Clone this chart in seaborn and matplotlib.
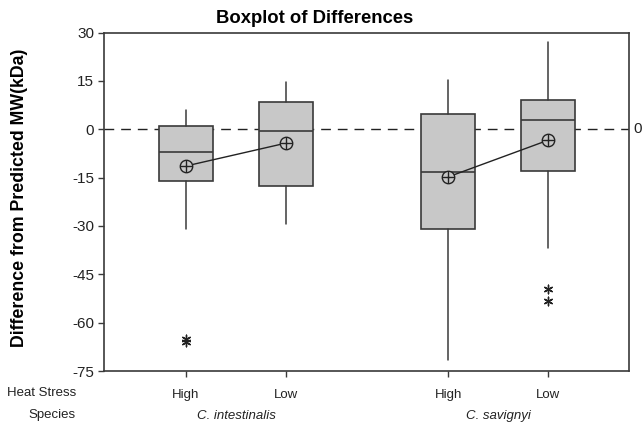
import matplotlib
matplotlib.use("Agg")
import matplotlib.pyplot as plt
import seaborn as sns
import pandas as pd
import numpy as np

# ---- data ----
species = ["C. intestinalis", "C. intestinalis", "C. savignyi", "C. savignyi"]
heat_stress = ["High", "Low", "High", "Low"]
whisker_low = [-31.1, -29.3, -71.7, -36.8]
q1 = [-16.0, -17.6, -30.8, -12.9]
median = [-7.2, -0.4, -13.4, 3.0]
q3 = [0.9, 8.3, 4.8, 9.0]
whisker_high = [5.9, 14.6, 15.4, 27.1]
means = [-11.4, -4.3, -14.8, -3.4]
outliers = [[-65.2, -66.0], [], [], [-49.6, -53.4]]
y_ticks = [30, 15, 0, -15, -30, -45, -60, -75]

sns.set_theme(style="white")
plt.rcParams["font.family"] = ["Liberation Sans", "DejaVu Sans"]

fig = plt.figure(figsize=(6.42, 4.25), dpi=100)
ax = fig.add_axes([0.162, 0.127, 0.818, 0.7965])

# layout positions: groups separated by a gap
group_of = {"C. intestinalis": 0, "C. savignyi": 1}
positions = [1 + i % 2 + group_of[s] * 2.62 for i, s in enumerate(species)]

edge = "#3a3a3a"
txt = "#222222"
stats = []
for i in range(len(species)):
    stats.append(dict(med=median[i], q1=q1[i], q3=q3[i], whislo=whisker_low[i],
                      whishi=whisker_high[i], fliers=[], mean=means[i], label=heat_stress[i]))
ax.bxp(stats, positions=positions, widths=0.54, patch_artist=True, showfliers=False,
       showcaps=False, manage_ticks=False,
       boxprops=dict(facecolor="#c8c8c8", edgecolor=edge, linewidth=1.2),
       medianprops=dict(color=edge, linewidth=1.2),
       whiskerprops=dict(color=edge, linewidth=1.1), zorder=2)

# reference line at 0
ax.axhline(0, color=txt, linestyle=(0, (7, 5)), linewidth=1.0, zorder=1)
ax.text(1.008, 0, "0", transform=ax.get_yaxis_transform(), ha="left", va="center",
        fontsize=11, color=txt)

# means connected within species
df_mean = pd.DataFrame({"x": positions, "mean": means, "species": species})
sns.lineplot(data=df_mean, x="x", y="mean", units="species", estimator=None, color=txt,
             linewidth=1.0, ax=ax, legend=False, zorder=3)
sns.scatterplot(data=df_mean, x="x", y="mean", marker="o", s=80, facecolor="#c8c8c8",
                edgecolor=txt, linewidth=1.0, ax=ax, zorder=4, legend=False)
sns.scatterplot(data=df_mean, x="x", y="mean", marker="+", s=80, color=txt,
                linewidth=1.0, ax=ax, zorder=5, legend=False)

# outliers
ox, oy = [], []
for p, outs in zip(positions, outliers):
    for v in outs:
        ox.append(p)
        oy.append(v)
df_out = pd.DataFrame({"x": ox, "y": oy})
sns.scatterplot(data=df_out, x="x", y="y", marker=(6, 2, 0), s=38, color=txt,
                linewidth=1.0, ax=ax, zorder=4, legend=False)

ax.set_xlim(0.18, 5.43)
ax.set_ylim(-75, 30)
ax.set_yticks(y_ticks)
ax.set_yticklabels([str(t) for t in y_ticks], fontsize=11, color=txt)
ax.set_xticks(positions)
ax.set_xticklabels(heat_stress, fontsize=9.5, color=txt)
ax.tick_params(axis="both", direction="out", length=4, width=1.0, color=edge,
               bottom=True, left=True)
ax.tick_params(axis="y", pad=3)
ax.tick_params(axis="x", pad=9)
ax.set_xlabel("")
ax.set_ylabel("")
for s in ax.spines.values():
    s.set_color(edge)
    s.set_linewidth(1.2)

# title and y label placed like the reference
fig.text(314.5 / 642, 1 - 23 / 425, "Boxplot of Differences", ha="center", va="baseline",
         fontsize=13.3, fontweight="bold", color="black")
fig.text(20 / 642, 1 - 197.5 / 425, "Difference from Predicted MW(kDa)", ha="center",
         va="center", rotation=90, fontsize=12.8, fontweight="bold", color="black")

# row labels below axis
trans = ax.get_xaxis_transform()
fig.text(76 / 642, 1 - 393 / 425, "Heat Stress", ha="right", va="center", fontsize=9.5, color=txt)
fig.text(76 / 642, 1 - 415 / 425, "Species", ha="right", va="center", fontsize=9.5, color=txt)
for sp in ["C. intestinalis", "C. savignyi"]:
    xs = [p for p, s in zip(positions, species) if s == sp]
    ax.text(np.mean(xs), -0.134, sp, transform=trans, ha="center", va="center",
            fontsize=9.5, style="italic", color=txt)

fig.savefig("out.png", dpi=100)
